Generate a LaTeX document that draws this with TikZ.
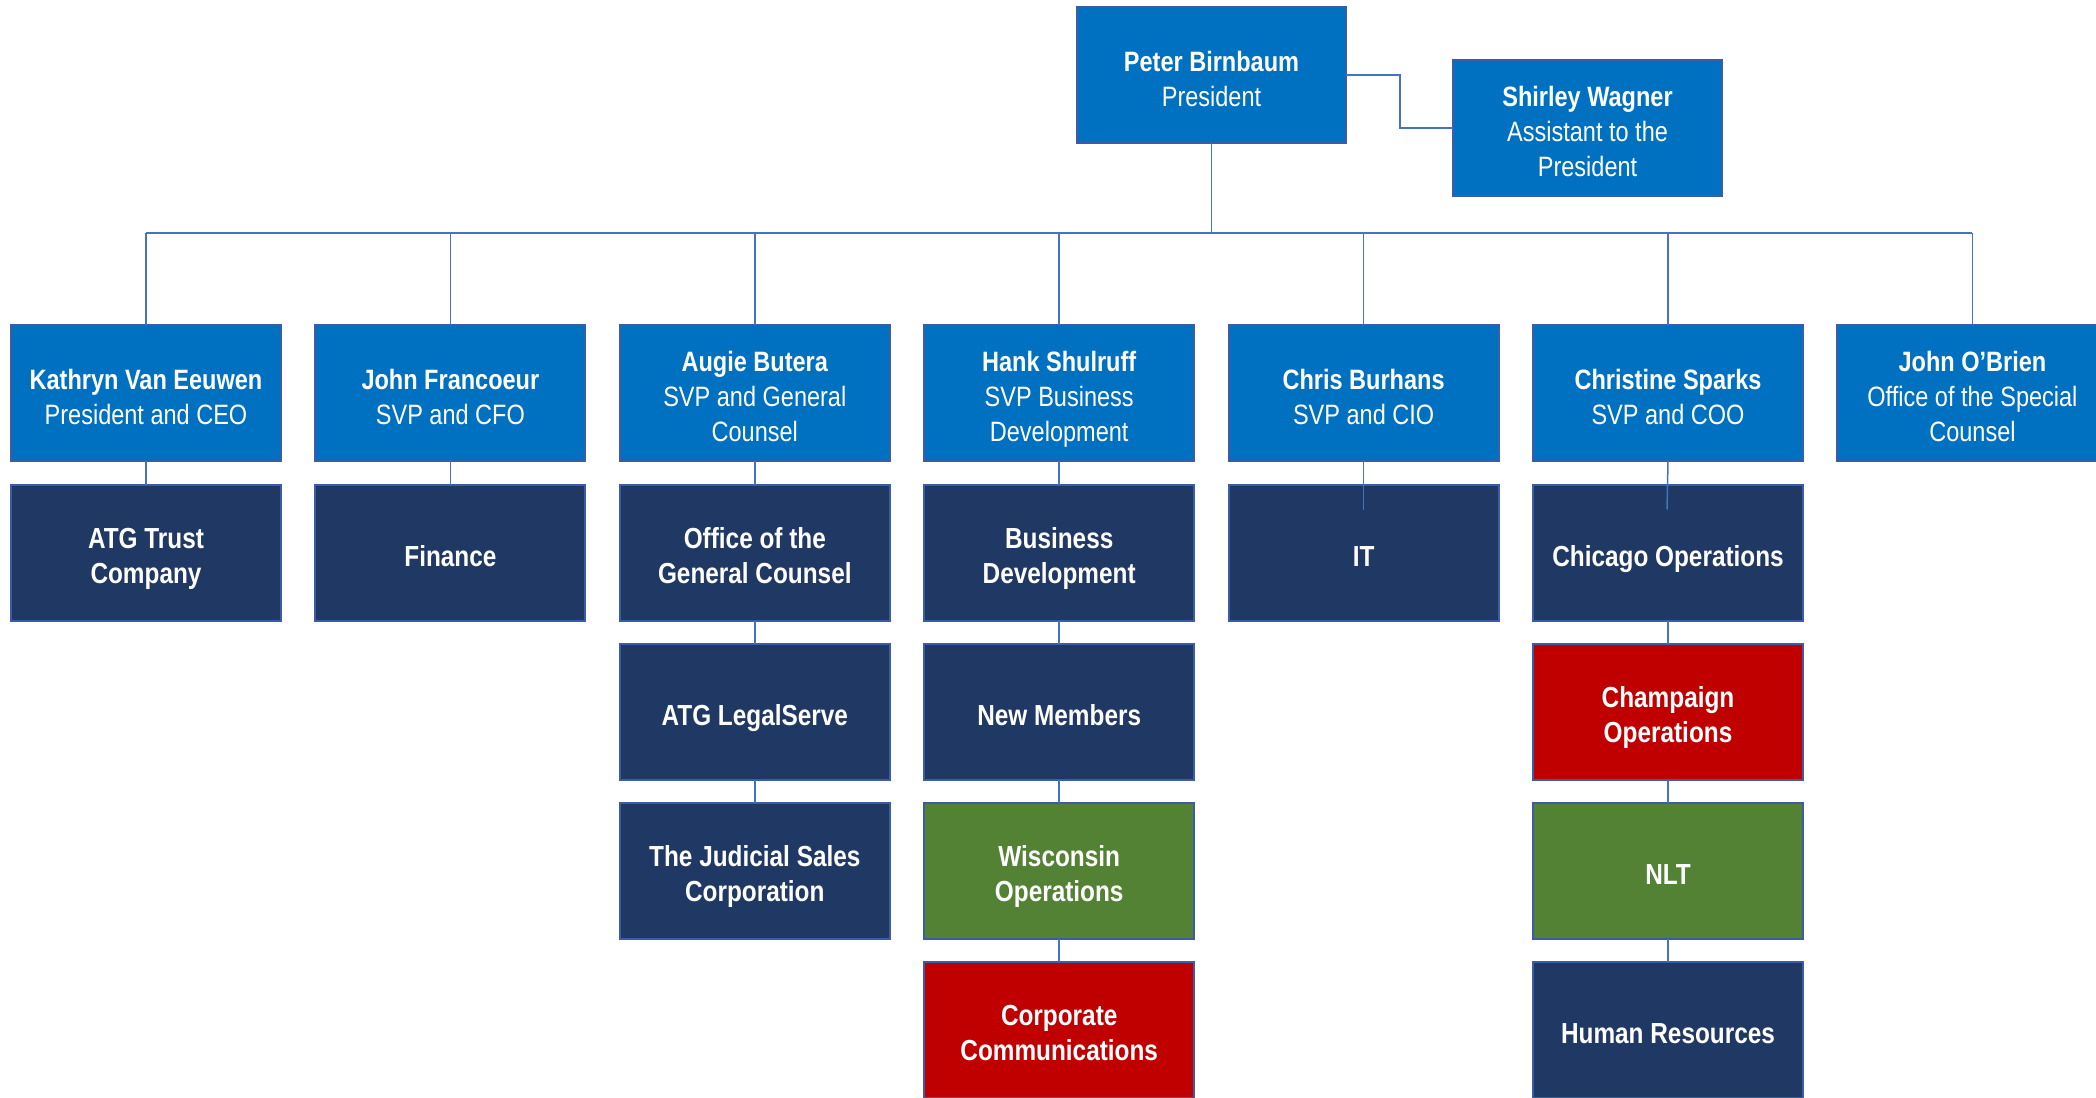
\documentclass[tikz,border=0pt]{standalone}
\usepackage{fontspec}
\setmainfont{Liberation Sans}[FakeStretch=0.84]
\usetikzlibrary{calc}
\definecolor{cblue}{HTML}{0070C0}
\definecolor{cnavy}{HTML}{1F3864}
\definecolor{cred}{HTML}{C00000}
\definecolor{cgreen}{HTML}{548235}
\definecolor{cborder}{HTML}{3B5CA8}
\definecolor{cline}{HTML}{4472C4}
\newcommand\tsx{\rule{0pt}{16.8pt}}
\newcommand\botstrutx{\rule[-3.2pt]{0pt}{3.2pt}}
\tikzset{
  box/.style={draw=cborder, line width=1pt, minimum width=135pt, minimum height=68pt,
    inner sep=0pt, outer sep=0pt, align=center, text=white,
    font=\fontsize{14}{17.5}\selectfont,
    execute at end node=\botstrutx},
  exec/.style={box, fill=cblue},
  unitbox/.style={box, fill=cnavy, font=\fontsize{14.5}{17.5}\selectfont\bfseries},
  redbox/.style={unitbox, fill=cred},
  greenbox/.style={unitbox, fill=cgreen},
  link/.style={draw=cline, line width=0.75pt}
}
\begin{document}
\begin{tikzpicture}[x=0.5pt,y=-0.5pt]
\useasboundingbox (0,0) rectangle (2096,1097);
\clip (0,0) rectangle (2096,1097);
% top level
\node[exec, minimum width=134.5pt] (peter) at (1211.5,75) {\tsx\textbf{Peter Birnbaum}\\President};
\node[exec, minimum width=134.5pt] (shirley) at (1587.5,128) {\tsx\textbf{Shirley Wagner}\\Assistant to the\\President};
% second level
\node[exec] (kathryn) at (146,393) {\tsx\textbf{Kathryn Van Eeuwen}\\President and CEO};
\node[exec] (johnf) at (450.4,393) {\tsx\textbf{John Francoeur}\\SVP and CFO};
\node[exec] (augie) at (754.8,393) {\tsx\textbf{Augie Butera}\\SVP and General\\Counsel};
\node[exec] (hank) at (1059.2,393) {\tsx\textbf{Hank Shulruff}\\SVP Business\\Development};
\node[exec] (chris) at (1363.6,393) {\tsx\textbf{Chris Burhans}\\SVP and CIO};
\node[exec] (christine) at (1668,393) {\tsx\textbf{Christine Sparks}\\SVP and COO};
\node[exec] (johno) at (1972.4,393) {\tsx\textbf{John O’Brien}\\Office of the Special\\Counsel};
% units
\node[unitbox] (atg) at (146,552.5) {\tsx ATG Trust\\Company};
\node[unitbox] (finance) at (450.4,552.5) {\tsx Finance};
\node[unitbox] (ogc) at (754.8,552.5) {\tsx Office of the\\General Counsel};
\node[unitbox] (legalserve) at (754.8,711.5) {\tsx ATG LegalServe};
\node[unitbox] (judicial) at (754.8,870.5) {\tsx The Judicial Sales\\Corporation};
\node[unitbox] (bizdev) at (1059.2,552.5) {\tsx Business\\Development};
\node[unitbox] (newmem) at (1059.2,711.5) {\tsx New Members};
\node[greenbox] (wisc) at (1059.2,870.5) {\tsx Wisconsin\\Operations};
\node[redbox] (corpcom) at (1059.2,1029.5) {\tsx Corporate\\Communications};
\node[unitbox] (it) at (1363.6,552.5) {\tsx IT};
\node[unitbox] (chicago) at (1668,552.5) {\tsx Chicago Operations};
\node[redbox] (champaign) at (1668,711.5) {\tsx Champaign\\Operations};
\node[greenbox] (nlt) at (1668,870.5) {\tsx NLT};
\node[unitbox] (hr) at (1668,1029.5) {\tsx Human Resources};
% connectors
\coordinate (bus) at (0,233);
\coordinate (elbow) at (1400,75);
\draw[link] (peter.east) -- (elbow) |- (shirley.west);
\draw[link] (peter.south) -- (peter.south |- bus);
\draw[link] (kathryn.north |- bus) -- (johno.north |- bus);
\foreach \n in {kathryn,johnf,augie,hank,chris,christine,johno}
  \draw[link] (\n.north) -- (\n.north |- bus);
\draw[link] (kathryn.south) -- (atg.north);
\draw[link] (johnf.south) -- (finance.north);
\draw[link] (augie.south) -- (ogc.north);
\draw[link] (ogc.south) -- (legalserve.north);
\draw[link] (legalserve.south) -- (judicial.north);
\draw[link] (hank.south) -- (bizdev.north);
\draw[link] (bizdev.south) -- (newmem.north);
\draw[link] (newmem.south) -- (wisc.north);
\draw[link] (wisc.south) -- (corpcom.north);
\coordinate (itend) at ($(it.north)+(0,25)$);
\draw[link] (chris.south) -- (itend);
\coordinate (chiend) at ($(chicago.north)+(-1,25)$);
\draw[link] (christine.south) -- (chiend);
\draw[link] (chicago.south) -- (champaign.north);
\draw[link] (champaign.south) -- (nlt.north);
\draw[link] (nlt.south) -- (hr.north);
\end{tikzpicture}
\end{document}
